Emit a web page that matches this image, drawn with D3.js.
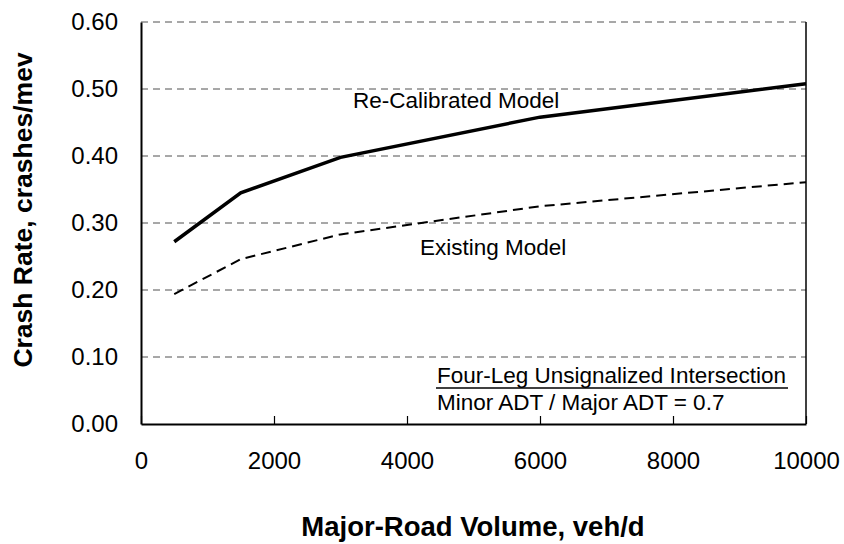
<!DOCTYPE html>
<html>
<head>
<meta charset="utf-8">
<script src="https://cdn.jsdelivr.net/npm/d3@7"></script>
<style>
  body { margin: 0; background: #fff; }
  svg { display: block; font-family: Arial, "Liberation Sans", sans-serif; }
</style>
</head>
<body>
<svg class="main" width="844" height="544"></svg>
<script>
// data
var volumes = [500, 1500, 3000, 6000, 10000]
var recalibrated = [0.272, 0.345, 0.398, 0.458, 0.508]
var existing = [0.194, 0.246, 0.283, 0.325, 0.361]
var xTicks = [0, 2000, 4000, 6000, 8000, 10000]
var yTicks = [0, 0.1, 0.2, 0.3, 0.4, 0.5, 0.6]

const margin = {top: 22, right: 38, bottom: 120, left: 141}
const width = 844 - margin.left - margin.right
const height = 544 - margin.top - margin.bottom

var svg = d3.select('svg.main')
var body = svg.append('g')
  .attr('transform', `translate(${margin.left}, ${margin.top})`)

const xScale = d3.scaleLinear().domain([0, 10000]).range([0, width])
const yScale = d3.scaleLinear().domain([0, 0.6]).range([height, 0])

// dashed gridlines
body.append('g')
  .selectAll('line')
  .data(yTicks.filter(d => d > 0))
  .join('line')
  .attr('x1', 0)
  .attr('x2', width)
  .attr('y1', d => yScale(d))
  .attr('y2', d => yScale(d))
  .attr('stroke', '#505050')
  .attr('stroke-width', 1)
  .attr('stroke-dasharray', '7,5')

// right border
body.append('line')
  .attr('x1', width).attr('x2', width)
  .attr('y1', 0).attr('y2', height)
  .attr('stroke', '#000').attr('stroke-width', 1.5)

// x axis, ticks pointing inward
const xAxis = body.append('g')
  .attr('transform', `translate(0, ${height})`)
  .call(d3.axisBottom(xScale).tickValues(xTicks).tickSize(-8).tickSizeOuter(0).tickPadding(28)
    .tickFormat(d3.format('d')))
xAxis.select('.domain').attr('stroke-width', 2)
xAxis.selectAll('.tick line').attr('stroke-width', 1.2)
xAxis.selectAll('text')
  .attr('font-size', 24)
  .attr('font-family', 'Arial, "Liberation Sans", sans-serif')
  .attr('fill', '#000')

// y axis
const yAxis = body.append('g')
  .call(d3.axisLeft(yScale).tickValues(yTicks).tickSize(0).tickPadding(23)
    .tickFormat(d3.format('.2f')))
yAxis.select('.domain').attr('stroke-width', 2)
yAxis.selectAll('text')
  .attr('font-size', 24)
  .attr('font-family', 'Arial, "Liberation Sans", sans-serif')
  .attr('fill', '#000')

// lines
var line = d3.line()
  .x(d => xScale(d[0]))
  .y(d => yScale(d[1]))

body.append('path')
  .datum(volumes.map((v, i) => [v, recalibrated[i]]))
  .attr('d', line)
  .attr('fill', 'none')
  .attr('stroke', '#000')
  .attr('stroke-width', 3.5)

body.append('path')
  .datum(volumes.map((v, i) => [v, existing[i]]))
  .attr('d', line)
  .attr('fill', 'none')
  .attr('stroke', '#000')
  .attr('stroke-width', 2)
  .attr('stroke-dasharray', '10,6')

// labels inside the plot
svg.append('text')
  .attr('x', 353).attr('y', 108)
  .attr('font-size', 22.5)
  .text('Re-Calibrated Model')

svg.append('text')
  .attr('x', 420).attr('y', 255)
  .attr('font-size', 22.5)
  .text('Existing Model')

svg.append('text')
  .attr('x', 437).attr('y', 383)
  .attr('font-size', 22.5)
  .text('Four-Leg Unsignalized Intersection')
svg.append('line')
  .attr('x1', 436).attr('x2', 788)
  .attr('y1', 388).attr('y2', 388)
  .attr('stroke', '#000').attr('stroke-width', 1.5)

svg.append('text')
  .attr('x', 437).attr('y', 410)
  .attr('font-size', 22.5)
  .text('Minor ADT / Major ADT = 0.7')

// axis titles
svg.append('text')
  .attr('x', 473).attr('y', 536)
  .attr('text-anchor', 'middle')
  .attr('font-size', 27.5)
  .attr('font-weight', 'bold')
  .text('Major-Road Volume, veh/d')

svg.append('text')
  .attr('transform', 'translate(32, 210) rotate(-90)')
  .attr('text-anchor', 'middle')
  .attr('font-size', 26.5)
  .attr('font-weight', 'bold')
  .text('Crash Rate, crashes/mev')
</script>
</body>
</html>
